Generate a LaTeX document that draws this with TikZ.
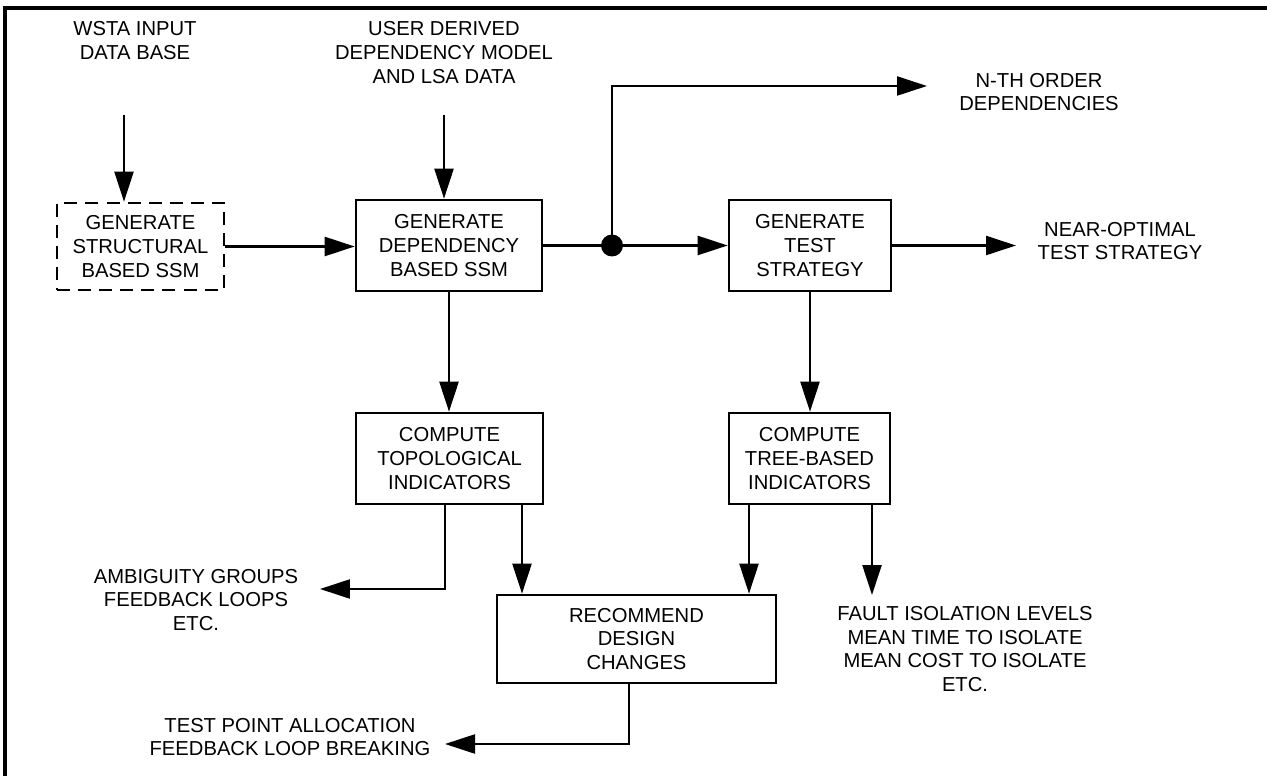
\documentclass[tikz,border=0pt]{standalone}
\usepackage{fontspec}
\setmainfont{Liberation Sans}
\usepackage{tikz}
\usetikzlibrary{arrows.meta, positioning}

\begin{document}
\begin{tikzpicture}[x=0.02cm, y=-0.02cm,
    every node/.style={font=\fontsize{11.5}{13.5}\selectfont, align=center},
    blk/.style={draw, line width=1.5pt, inner sep=0pt, minimum height=1.82cm},
    flow/.style={line width=1.3pt, -{Triangle[length=6mm, width=3.8mm]}},
    wire/.style={line width=1.3pt}]
    \useasboundingbox (0,0) rectangle (1267,776);
    % Frame
    \draw[line width=2pt] (5,776) -- (5,8) -- (1267,8);

    % Inputs
    \node (wsta) at (135,40.5) {WSTA INPUT\\DATA BASE};
    \node (user) at (444,52.5) {USER DERIVED\\DEPENDENCY MODEL\\AND LSA DATA};

    % Blocks
    \node[blk, dash pattern=on 7.4pt off 4.6pt, minimum width=3.34cm, minimum height=1.74cm] (struct) at (140.5,246.5) {GENERATE\\STRUCTURAL\\BASED SSM};
    \node[blk, minimum width=3.72cm] (depssm) at (449,245.5) {GENERATE\\DEPENDENCY\\BASED SSM};
    \node[blk, minimum width=3.24cm] (teststrat) at (810,245.5) {GENERATE\\TEST\\STRATEGY};
    \node[blk, minimum width=3.74cm] (topo) at (449.5,458.5) {COMPUTE\\TOPOLOGICAL\\INDICATORS};
    \node[blk, minimum width=3.22cm] (tree) at (809.5,458.5) {COMPUTE\\TREE-BASED\\INDICATORS};
    \node[blk, minimum width=5.58cm, minimum height=1.76cm] (recdes) at (636.5,639) {RECOMMEND\\DESIGN\\CHANGES};

    % Outputs
    \node (nth) at (1039,92) {N-TH ORDER\\DEPENDENCIES};
    \node (near) at (1120,241) {NEAR-OPTIMAL\\TEST STRATEGY};
    \node (ambig) at (196,600) {AMBIGUITY GROUPS\\FEEDBACK LOOPS\\ETC.};
    \node (fault) at (965,649) {FAULT ISOLATION LEVELS\\MEAN TIME TO ISOLATE\\MEAN COST TO ISOLATE\\ETC.};
    \node (tpa) at (290,737) {TEST POINT ALLOCATION\\FEEDBACK LOOP BREAKING};

    % Points
    \coordinate (wstatail) at (124,115);
    \coordinate (usertail) at (444,115);
    \coordinate (split) at (612,245.5);
    \coordinate (nthtip) at (927,86);
    \coordinate (neartip) at (1016,245.5);
    \coordinate (topol) at (445,504);
    \coordinate (topor) at (522,504);
    \coordinate (treel) at (749,504);
    \coordinate (treer) at (872,504);
    \coordinate (recout) at (629,683);
    \coordinate (ambigtip) at (320,589);
    \coordinate (faulttip) at (872,595);
    \coordinate (tpatip) at (445,744);

    % Arrows
    \draw[flow] (wstatail) -- (wstatail |- struct.north);
    \draw[flow] (usertail) -- (usertail |- depssm.north);
    \draw[flow] (struct.east) -- (struct.east -| depssm.west);
    \draw[wire] (depssm.east) -- (split);
    \draw[flow] (split) -- (teststrat.west);
    \draw[flow] (split) |- (nthtip);
    \fill (split) circle[radius=0.22cm];
    \draw[flow] (teststrat.east) -- (neartip);
    \draw[flow] (depssm.south) -- (depssm.south |- topo.north);
    \draw[flow] (teststrat.south) -- (teststrat.south |- tree.north);
    \draw[flow] (topol) |- (ambigtip);
    \draw[flow] (topor) -- (topor |- recdes.north);
    \draw[flow] (treel) -- (treel |- recdes.north);
    \draw[flow] (treer) -- (faulttip);
    \draw[flow] (recout) |- (tpatip);
\end{tikzpicture}
\end{document}
